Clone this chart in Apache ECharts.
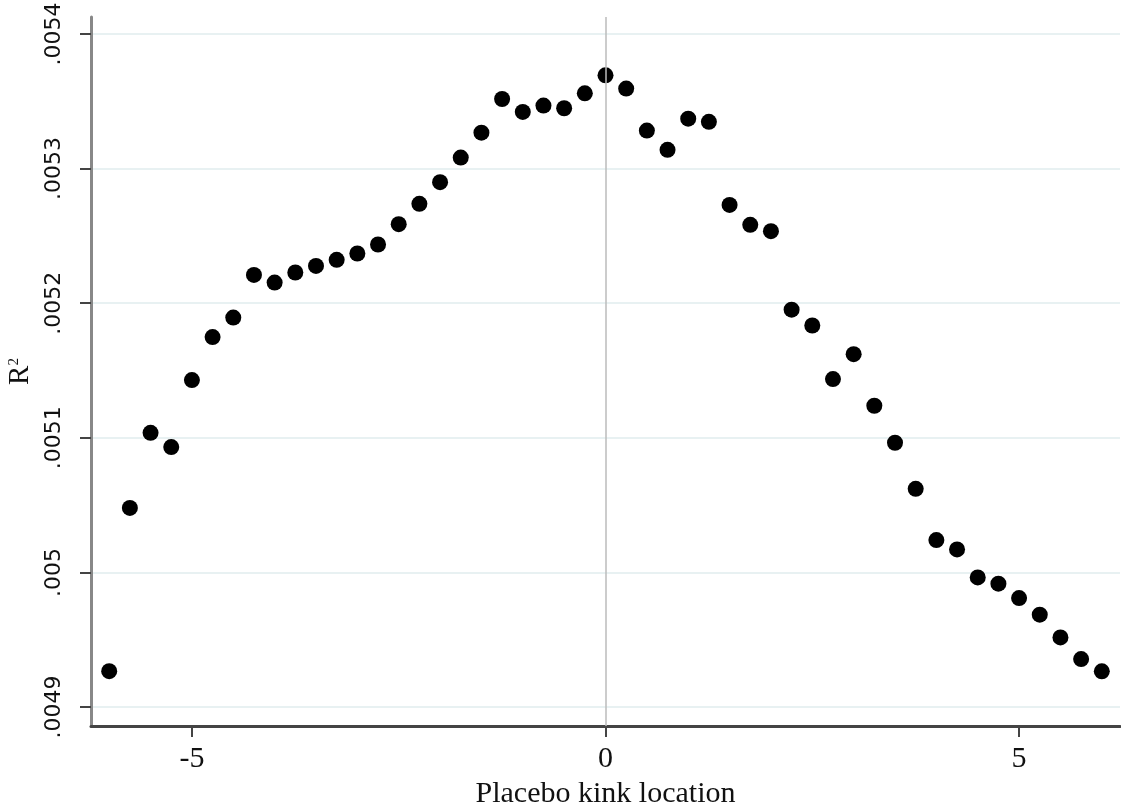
<!DOCTYPE html>
<html>
<head>
<meta charset="utf-8">
<script src="https://cdn.jsdelivr.net/npm/echarts@6/dist/echarts.min.js"></script>
<style>html,body{margin:0;padding:0;background:#fff;}#chart{width:1121px;height:804px;}</style>
</head>
<body>
<div id="chart"></div>
<script>
// Placebo kink locations (x) and R^2 values (y)
const kinkLocations = [-6, -5.75, -5.5, -5.25, -5, -4.75, -4.5, -4.25, -4, -3.75, -3.5, -3.25, -3, -2.75, -2.5, -2.25, -2, -1.75, -1.5, -1.25, -1, -0.75, -0.5, -0.25, 0, 0.25, 0.5, 0.75, 1, 1.25, 1.5, 1.75, 2, 2.25, 2.5, 2.75, 3, 3.25, 3.5, 3.75, 4, 4.25, 4.5, 4.75, 5, 5.25, 5.5, 5.75, 6];
const rSquared = [0.0049266, 0.0050479, 0.0051037, 0.0050931, 0.0051429, 0.0051748, 0.0051893, 0.0052210, 0.0052153, 0.0052228, 0.0052277, 0.0052322, 0.0052369, 0.0052436, 0.0052587, 0.0052738, 0.0052899, 0.0053082, 0.0053267, 0.0053517, 0.0053421, 0.0053468, 0.0053448, 0.0053559, 0.0053693, 0.0053594, 0.0053282, 0.0053139, 0.0053371, 0.0053347, 0.0052730, 0.0052582, 0.0052535, 0.0051952, 0.0051834, 0.0051436, 0.0051621, 0.0051238, 0.0050963, 0.0050621, 0.0050240, 0.0050171, 0.0049963, 0.0049916, 0.0049809, 0.0049686, 0.0049517, 0.0049356, 0.0049265];
const xTickValues = [-5, 0, 5];
const xTickLabels = ['-5', '0', '5'];
const yTickValues = [0.0049, 0.0050, 0.0051, 0.0052, 0.0053, 0.0054];
const yTickLabels = ['.0049', '.005', '.0051', '.0052', '.0053', '.0054'];
const xTitle = 'Placebo kink location';
const refLineX = 0;

const points = kinkLocations.map((x, i) => [x, rSquared[i]]);
const SERIF = 'Liberation Serif';
const SANS = 'DejaVu Sans';
const chart = echarts.init(document.getElementById('chart'), null, {renderer: 'canvas'});
chart.setOption({
  backgroundColor: '#ffffff',
  animation: false,
  grid: {left: 91, right: 1, top: 17, bottom: 78, containLabel: false, outerBoundsMode: 'none'},
  xAxis: {
    type: 'value',
    min: -6.22, max: 6.22,
    name: xTitle,
    nameLocation: 'middle',
    nameGap: 49,
    nameTextStyle: {fontFamily: SERIF, fontSize: 30, color: '#111'},
    axisLine: {show: true, onZero: false, lineStyle: {color: '#444', width: 3}},
    axisTick: {show: true, length: 11, customValues: xTickValues, lineStyle: {color: '#444', width: 2}},
    axisLabel: {customValues: xTickValues, margin: 18, fontFamily: SERIF, fontSize: 30, color: '#111',
      formatter: v => xTickLabels[xTickValues.indexOf(v)] ?? String(v)},
    splitLine: {show: false}
  },
  yAxis: {
    type: 'value',
    min: 0.0048859, max: 0.0054126,
    name: 'R{sup|2}',
    nameLocation: 'middle',
    nameRotate: 90,
    nameGap: 50,
    nameTextStyle: {fontFamily: SERIF, fontSize: 29, color: '#111',
      rich: {sup: {fontFamily: SERIF, fontSize: 15, color: '#111', verticalAlign: 'top', padding: [0, 0, 12, 0]}}},
    axisLine: {show: true, onZero: false, lineStyle: {color: '#888', width: 3}},
    axisTick: {show: true, length: 11, customValues: yTickValues, lineStyle: {color: '#444', width: 2}},
    axisLabel: {customValues: yTickValues, rotate: 90, margin: 26, fontFamily: SANS, fontSize: 22, color: '#111',
      formatter: v => { const i = yTickValues.findIndex(t => Math.abs(t - v) < 1e-9); return i >= 0 ? yTickLabels[i] : String(v); }},
    splitLine: {show: true, lineStyle: {color: '#e8f1f2', width: 2}}
  },
  series: [{
    type: 'scatter',
    data: points,
    symbol: 'circle',
    symbolSize: 16,
    itemStyle: {color: '#000', opacity: 1},
    markLine: {
      silent: true,
      symbol: 'none',
      label: {show: false},
      lineStyle: {color: '#bbbbbb', width: 1.5, type: 'solid', opacity: 1},
      data: [{xAxis: refLineX}]
    },
    z: 3
  }]
});
</script>
</body>
</html>
